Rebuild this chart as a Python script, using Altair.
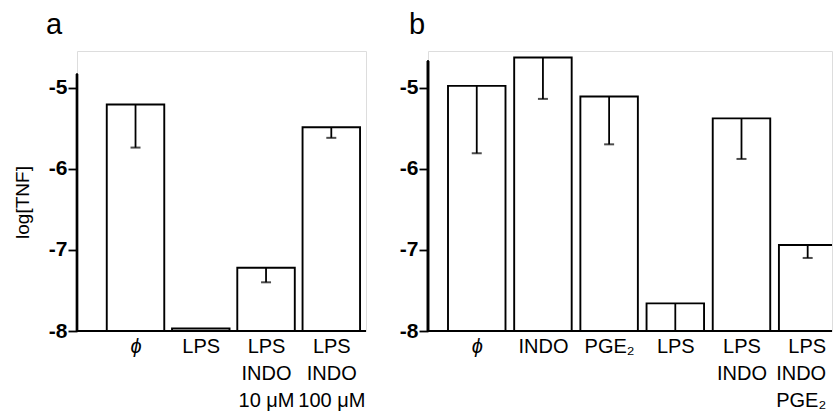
import json
import altair as alt
import pandas as pd

# ---- data ----
cats_a = ["ϕ", "LPS", "LPS|INDO|10 μM", "LPS|INDO|100 μM"]
vals_a = [-5.21, -7.97, -7.22, -5.49]
errs_a = [-5.74, None, -7.40, -5.62]

cats_b = ["ϕ", "INDO", "PGE₂", "LPS", "LPS|INDO", "LPS|INDO|PGE₂"]
vals_b = [-4.98, -4.63, -5.11, -7.66, -5.38, -6.94]
errs_b = [-5.81, -5.14, -5.70, -8.00, -5.88, -7.10]

y_ticks = [-5, -6, -7, -8]
y_min = -8.0
y_max = -4.55
axis_top_a = -4.83
axis_top_b = -4.67

# x-scale windows (in bar-index units) and bar geometry
x_dom_a = [-0.82, 3.455]
x_dom_b = [-0.661, 5.292]
BAR_W = 57.5

FONT = "Liberation Sans"


def panel(cats, vals, errs, letter, width, x_dom, title_dx, axis_top, ytitle, last_right):
    df = pd.DataFrame({"idx": list(range(len(cats))), "val": vals, "err": errs})
    df["base"] = y_min
    base = alt.Chart(df)
    n = len(cats)
    lab_arr = json.dumps(cats, ensure_ascii=False)

    align = "center"
    offset = 0
    if last_right:
        align = {"condition": {"test": f"datum.value == {n - 1}", "value": "right"},
                 "value": "center"}
        offset = {"condition": {"test": f"datum.value == {n - 1}", "value": 18},
                  "value": 0}

    x = alt.X(
        "idx:Q",
        scale=alt.Scale(domain=x_dom, nice=False, zero=False),
        axis=alt.Axis(
            title=None,
            values=list(range(n)),
            labelExpr=f"split({lab_arr}[datum.value], '|')",
            labelAngle=0,
            labelFont=FONT,
            labelFontSize=20,
            labelLineHeight=27,
            labelPadding=5,
            labelColor="black",
            labelAlign=align,
            labelOffset=offset,
            labelFontStyle={"condition": {"test": "datum.value == 0", "value": "italic"},
                            "value": "normal"},
            labelOverlap=False,
            labelFlush=False,
            ticks=False,
            domain=False,
            grid=False,
        ),
    )
    yaxis = dict(
        values=y_ticks,
        domain=False,
        tickSize=9,
        tickWidth=1.8,
        tickColor="black",
        labelFont=FONT,
        labelFontSize=21,
        labelFontWeight="bold",
        labelColor="black",
        labelPadding=1,
        labelExpr="'-' + abs(datum.value)",
        grid=False,
    )
    if ytitle:
        yaxis.update(title=ytitle, titleFont=FONT, titleFontSize=19,
                     titleFontWeight="normal", titleColor="black",
                     titleX=-55, titleY=151, titleBaseline="middle",
                     titleAlign="center", titleAngle=270)
    else:
        yaxis.update(title=None)
    y = alt.Y("val:Q", scale=alt.Scale(domain=[y_min, y_max], nice=False, zero=False),
              axis=alt.Axis(**yaxis))

    bars = base.mark_bar(fill="white", stroke="black", strokeWidth=1.9, clip=True,
                         width=BAR_W).encode(x=x, y=y, y2="base:Q")
    eb = base.transform_filter("isValid(datum.err)")
    err_rule = eb.mark_rule(color="black", strokeWidth=1.8).encode(
        x="idx:Q", y="val:Q", y2="err:Q")
    caps = eb.mark_tick(color="black", thickness=2, size=10, orient="horizontal").encode(
        x="idx:Q", y="err:Q")
    xline = base.mark_rule(color="black", strokeWidth=2.2).encode(y=alt.datum(y_min))
    yline = base.mark_rule(color="black", strokeWidth=2.2).encode(
        x=alt.value(0), y=alt.datum(y_min), y2=alt.datum(axis_top))

    return alt.layer(bars, err_rule, caps, xline, yline).properties(
        width=width, height=280,
        title=alt.TitleParams(text=letter, anchor="start", frame="group", font=FONT,
                              fontSize=29, fontWeight="normal", color="black",
                              dx=title_dx, offset=11),
    )


pa = panel(cats_a, vals_a, errs_a, "a", 289, x_dom_a, -31, axis_top_a, "log[TNF]", False)
pb = panel(cats_b, vals_b, errs_b, "b", 404, x_dom_b, -19, axis_top_b, None, True)

chart = alt.hconcat(pa, pb, spacing=30).properties(
    padding={"left": 12, "top": 10, "right": 0, "bottom": 0}
).configure_view(strokeWidth=0).configure(font=FONT, background="white")

chart.save("out.html", embed_options={"renderer": "svg", "actions": False})
